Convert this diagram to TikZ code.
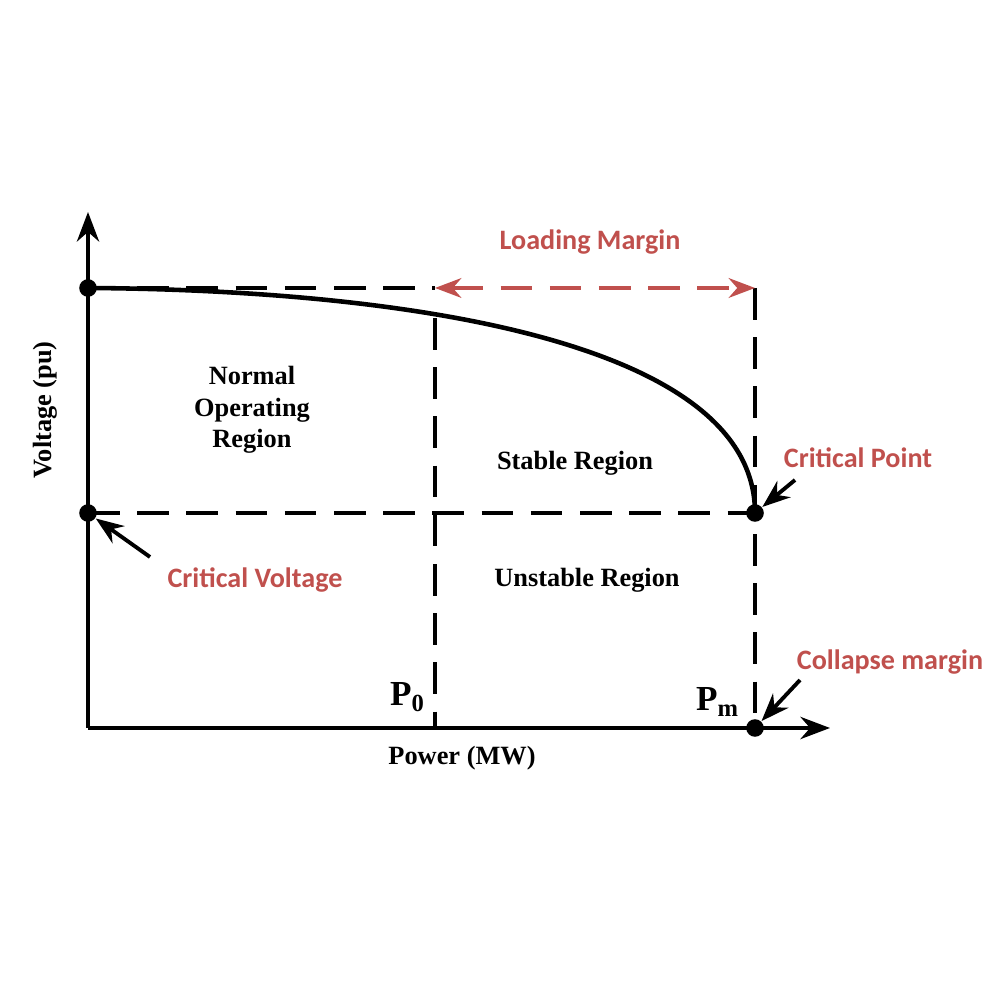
\documentclass[tikz,border=0pt]{standalone}
\usepackage{fontspec}
\setmainfont{Liberation Serif}
\newfontfamily\redfont{Carlito}
\usetikzlibrary{arrows.meta, positioning, calc}
\definecolor{marginred}{RGB}{192,80,77}

\begin{document}
\begin{tikzpicture}[>=Stealth, font=\fontsize{7.5}{9}\selectfont\bfseries,
    dashline/.style={dash pattern=on 9pt off 5pt, line width=1pt},
    redlabel/.style={text=marginred, font=\fontsize{8}{10}\selectfont\redfont\bfseries},
    dot/.style={circle, fill, inner sep=0pt, minimum size=5pt}]
        \useasboundingbox (0,0) rectangle (10,10);
        \coordinate (O) at (0.88,2.72);
        \coordinate (ytop) at (0.88,7.88);
        \coordinate (xend) at (8.30,2.72);
        \node[dot] (v0) at (0.88,7.12) {};
        \node[dot] (vc) at (0.88,4.87) {};
        \node[dot] (cp) at (7.55,4.87) {};
        \node[dot] (pm) at (7.55,2.72) {};
        \coordinate (p0top) at (4.35,6.82);
        \coordinate (p0bot) at (4.35,2.72);
        \coordinate (lm0) at (4.35,7.12);
        \coordinate (lm1) at (7.55,7.12);
        % axes
        \draw[line width=1.2pt, ->] (O) -- (ytop);
        \draw[line width=1.2pt, ->] (O) -- (xend);
        % nose curve
        \draw[line width=1.3pt] (v0.center) .. controls (4,7.1) and (7.55,6.6) .. (cp.center);
        % dashed lines
        \draw[dashline] (v0.center) -- (lm0);
        \draw[dashline] (vc.center) -- (cp.center);
        \draw[dashline] (lm1) -- (pm.center);
        \draw[dashline] (p0top) -- (p0bot);
        \draw[dashline, marginred, <->] (lm0) -- (lm1);
        % labels
        \node[redlabel] (lm) at (5.90,7.58) {Loading Margin};
        \node[align=center] (nor) at (2.52,5.9) {Normal\\Operating\\Region};
        \node (sr) at (5.75,5.37) {Stable Region};
        \node (ur) at (5.87,4.2) {Unstable Region};
        \node[redlabel] (cpl) at (8.58,5.42) {Critical Point};
        \node[redlabel] (cvl) at (2.55,4.2) {Critical Voltage};
        \node[redlabel] (cml) at (8.90,3.38) {Collapse margin};
        \node[font=\fontsize{10}{12}\selectfont\bfseries] (p0l) at (4.08,3.03) {P\textsubscript{0}};
        \node[font=\fontsize{10}{12}\selectfont\bfseries] (pml) at (7.18,2.98) {P\textsubscript{m}};
        \node (xl) at (4.62,2.42) {Power (MW)};
        \node[rotate=90] (yl) at (0.45,5.9) {Voltage (pu)};
        % pointers
        \draw[line width=1.1pt, ->] (1.50,4.43) -- (vc);
        \draw[line width=1.1pt, ->] (7.95,5.20) -- (cp);
        \draw[line width=1.1pt, ->] (8.00,3.20) -- (pm);
\end{tikzpicture}
\end{document}
